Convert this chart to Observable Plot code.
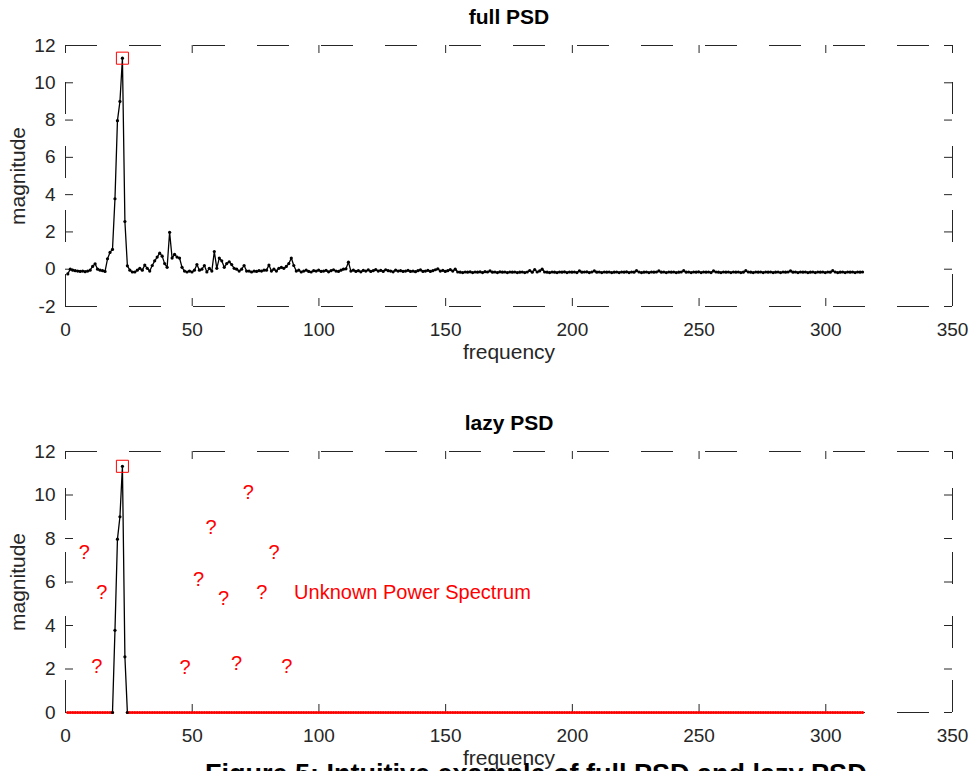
<!DOCTYPE html>
<html><head><meta charset="utf-8">
<script src="https://cdn.jsdelivr.net/npm/d3@7"></script>
<script src="https://cdn.jsdelivr.net/npm/@observablehq/plot@0.6"></script>
<style>
body{margin:0;background:#fff;}
#wrap{position:relative;width:973px;height:771px;overflow:hidden;font-family:"Liberation Sans",Arial,sans-serif;background:#fff;}
#top,#bottom{position:absolute;left:0;}
#top{top:0;} #bottom{top:390px;}
#caption{position:absolute;left:205px;top:761px;font-weight:bold;font-size:27px;line-height:1;color:#000;white-space:nowrap;}
</style></head><body>
<div id="wrap"><div id="top"></div><div id="bottom"></div><div id="caption">Figure 5: Intuitive example of full PSD and lazy PSD</div></div>
<script>
// ---- data ----
const frequencyStart = 0.9;
const frequencyStep = 0.98;
const fullMagnitude = [
 -0.25, 0.00,-0.05,-0.08,-0.10,-0.12,-0.10,-0.13,-0.10,-0.05,
  0.15, 0.29, 0.00,-0.05,-0.08,-0.12, 0.56, 0.90, 1.06, 3.78,
  7.97, 9.00,11.32, 2.56, 0.18,-0.05,-0.15,-0.15,-0.05, 0.05,
 -0.05, 0.22, 0.05,-0.10, 0.20, 0.45, 0.65, 0.86, 0.70, 0.30,
  0.10, 1.98, 0.60, 0.80, 0.65, 0.60, 0.10,-0.10,-0.15,-0.10,
 -0.15,-0.05, 0.25,-0.05, 0.00, 0.20,-0.15, 0.05,-0.10, 0.95,
  0.05, 0.60, 0.45, 0.10, 0.30, 0.40, 0.25, 0.05, 0.00,-0.10,
  0.00, 0.20,-0.10,-0.10,-0.15,-0.10,-0.12,-0.08,-0.10,-0.05,
 -0.05, 0.22,-0.10, 0.00,-0.10, 0.05, 0.10, 0.05, 0.15, 0.30,
  0.60, 0.20,-0.10,-0.05,-0.15,-0.10,-0.05,-0.12,-0.15,-0.08,
 -0.10,-0.05,-0.12,-0.10,-0.06,-0.14,-0.08,-0.03,-0.10,-0.12,
 -0.05, 0.00, 0.02, 0.38,-0.10,-0.05,-0.12,-0.08,-0.14,-0.06,
 -0.10,-0.04,-0.12,-0.08,-0.02,-0.10,-0.06,-0.12,-0.03,-0.08,
 -0.10,-0.14,-0.05,-0.10,-0.08,-0.12,-0.10,-0.06,-0.12,-0.10,
 -0.13,-0.08,-0.04,-0.12,-0.10,-0.06,-0.12,-0.08,-0.03, 0.02,
 -0.10,-0.06,-0.12,-0.08,-0.02,-0.10, 0.00,-0.15,-0.16,-0.18,
 -0.15,-0.16,-0.14,-0.18,-0.15,-0.16,-0.14,-0.18,-0.13,-0.15,
 -0.09,-0.16,-0.15,-0.18,-0.14,-0.16,-0.15,-0.18,-0.15,-0.16,
 -0.15,-0.18,-0.16,-0.15,-0.18,-0.15,-0.07,-0.16,-0.02,-0.15,
 -0.09, 0.00,-0.15,-0.16,-0.18,-0.15,-0.16,-0.18,-0.15,-0.16,
 -0.14,-0.18,-0.15,-0.16,-0.15,-0.18,-0.09,-0.16,-0.15,-0.14,
 -0.18,-0.15,-0.09,-0.16,-0.15,-0.18,-0.15,-0.16,-0.15,-0.18,
 -0.16,-0.15,-0.18,-0.15,-0.16,-0.14,-0.18,-0.15,-0.16,-0.08,
 -0.15,-0.18,-0.16,-0.15,-0.18,-0.15,-0.16,-0.15,-0.09,-0.16,
 -0.15,-0.18,-0.15,-0.16,-0.15,-0.18,-0.16,-0.15,-0.08,-0.16,
 -0.15,-0.18,-0.15,-0.16,-0.14,-0.18,-0.15,-0.16,-0.15,-0.18,
 -0.09,-0.15,-0.16,-0.18,-0.15,-0.16,-0.15,-0.18,-0.15,-0.16,
 -0.15,-0.18,-0.16,-0.08,-0.15,-0.16,-0.18,-0.15,-0.16,-0.15,
 -0.18,-0.15,-0.16,-0.15,-0.18,-0.16,-0.15,-0.18,-0.15,-0.16,
 -0.15,-0.09,-0.16,-0.15,-0.18,-0.15,-0.16,-0.15,-0.18,-0.16,
 -0.15,-0.18,-0.15,-0.16,-0.15,-0.18,-0.15,-0.16,-0.08,-0.15,
 -0.18,-0.16,-0.15,-0.18,-0.15,-0.16,-0.15,-0.18,-0.15,-0.16,
 -0.15
];
const lazyKnownBins = [18, 19, 20, 21, 22, 23, 24];
const lazyKnownMagnitude = [0, 3.78, 7.97, 9.00, 11.32, 2.56, 0];
const questionFrequency = [7.4, 14.3, 12.4, 72.1, 57.4, 82.3, 52.5, 62.4, 77.5, 47.2, 67.5, 87.3];
const questionMagnitude = [7.37, 5.49, 2.11, 10.1, 8.52, 7.37, 6.1, 5.23, 5.49, 2.08, 2.24, 2.11];
const unknownLabel = "Unknown Power Spectrum";
const unknownLabelFrequency = 90.2;
const unknownLabelMagnitude = 5.49;
const xTicks = [0, 50, 100, 150, 200, 250, 300, 350];
const yTicksFull = [-2, 0, 2, 4, 6, 8, 10, 12];
const yTicksLazy = [0, 2, 4, 6, 8, 10, 12];
const titles = ["full PSD", "lazy PSD"];
const xLabel = "frequency";
const yLabel = "magnitude";

// ---- derived tables ----
const frequency = fullMagnitude.map((_, i) => frequencyStart + i * frequencyStep);
const full = frequency.map((f, i) => ({f, m: fullMagnitude[i]}));
const peak = full[d3.maxIndex(fullMagnitude)];
const lazyKnown = lazyKnownBins.map((b, i) => ({f: frequency[b], m: lazyKnownMagnitude[i]}));
const lazyPeak = lazyKnown[d3.maxIndex(lazyKnownMagnitude)];
const first = lazyKnownBins[0], last = lazyKnownBins[lazyKnownBins.length - 1];
const lazyUnknown = frequency.map((f, i) => ({f, m: (i > first && i < last) ? NaN : 0}));
const questions = questionFrequency.map((f, i) => ({f, m: questionMagnitude[i]}));

const W = 973, ML = 65, MR = 21;
const FW = W - ML - MR;
const axisColor = "#262626";
const font = "'Liberation Sans', Arial, sans-serif";
const fmt = d => String(d);

function framing(yDomain, yTicks, frameH) {
  const dash = "32,32";
  const [y0, y1] = yDomain;
  return [
    Plot.ruleY([y1], {x1: 0, x2: 350, stroke: axisColor, strokeDasharray: dash}),
    Plot.ruleY([y0], {x1: 0, x2: 350, stroke: axisColor, strokeDasharray: dash}),
    Plot.ruleX([0], {y1: y0, y2: y1, stroke: axisColor, strokeDasharray: dash}),
    Plot.ruleX([350], {y1: y0, y2: y1, stroke: axisColor, strokeDasharray: dash}),
    Plot.ruleX(xTicks, {insetTop: frameH - 8, stroke: axisColor}),
    Plot.ruleX(xTicks, {insetBottom: frameH - 8, stroke: axisColor}),
    Plot.ruleY(yTicks, {insetRight: FW - 8, stroke: axisColor}),
    Plot.ruleY(yTicks, {insetLeft: FW - 8, stroke: axisColor}),
    Plot.axisX({ticks: xTicks, tickSize: 0, tickPadding: 16, label: null, fontSize: 19, fill: axisColor, tickFormat: fmt}),
    Plot.axisY({ticks: yTicks, tickSize: 0, tickPadding: 10, label: null, fontSize: 19, fill: axisColor, tickFormat: fmt}),
  ];
}

function labels(title) {
  return [
    Plot.text([title], {frameAnchor: "top", dy: -28, lineAnchor: "middle", textAnchor: "middle", fontSize: 21, fontWeight: "bold", fill: "#000"}),
    Plot.text([xLabel], {frameAnchor: "bottom", dy: 46, lineAnchor: "middle", textAnchor: "middle", fontSize: 21, fill: axisColor}),
    Plot.text([yLabel], {frameAnchor: "left", dx: -47, rotate: -90, lineAnchor: "middle", textAnchor: "middle", fontSize: 21, fill: axisColor}),
  ];
}

// ---- top: full PSD ----
const topH = 390, topMT = 45, topMB = 84;
const topFrameH = topH - topMT - topMB;
const topPlot = Plot.plot({
  width: W, height: topH, marginLeft: ML, marginRight: MR, marginTop: topMT, marginBottom: topMB,
  style: {fontFamily: font, fontSize: "18px", color: axisColor, background: "white", overflow: "visible"},
  x: {domain: [0, 350]},
  y: {domain: [-2, 12]},
  marks: [
    ...framing([-2, 12], yTicksFull, topFrameH),
    Plot.line(full, {x: "f", y: "m", stroke: "#000", strokeWidth: 1.3}),
    Plot.dot(full, {x: "f", y: "m", r: 1.6, fill: "#000", stroke: "none"}),
    Plot.dot([peak], {x: "f", y: "m", symbol: "square", r: 6.8, stroke: "#ff0000", fill: "none", strokeWidth: 1}),
    ...labels(titles[0]),
  ]
});
document.getElementById("top").append(topPlot);

// ---- bottom: lazy PSD ----
const botH = 381, botMT = 61, botMB = 59;
const botFrameH = botH - botMT - botMB;
const botPlot = Plot.plot({
  width: W, height: botH, marginLeft: ML, marginRight: MR, marginTop: botMT, marginBottom: botMB,
  style: {fontFamily: font, fontSize: "18px", color: axisColor, background: "transparent", overflow: "visible"},
  x: {domain: [0, 350]},
  y: {domain: [0, 12]},
  marks: [
    ...framing([0, 12], yTicksLazy, botFrameH),
    Plot.line(lazyUnknown, {x: "f", y: "m", stroke: "#ff0000", strokeWidth: 1.6}),
    Plot.dot(lazyUnknown.filter(d => !isNaN(d.m)), {x: "f", y: "m", r: 1.6, fill: "#ff0000", stroke: "none"}),
    Plot.line(lazyKnown, {x: "f", y: "m", stroke: "#000", strokeWidth: 1.3}),
    Plot.dot(lazyKnown, {x: "f", y: "m", r: 1.6, fill: "#000", stroke: "none"}),
    Plot.dot([lazyPeak], {x: "f", y: "m", symbol: "square", r: 6.8, stroke: "#ff0000", fill: "none", strokeWidth: 1}),
    Plot.text(questions, {x: "f", y: "m", text: () => "?", fill: "#ff0000", fontSize: 20, lineAnchor: "middle"}),
    Plot.text([unknownLabel], {x: () => unknownLabelFrequency, y: () => unknownLabelMagnitude, textAnchor: "start", lineAnchor: "middle", fill: "#ff0000", fontSize: 20}),
    ...labels(titles[1]),
  ]
});
document.getElementById("bottom").append(botPlot);
</script>
</body></html>
